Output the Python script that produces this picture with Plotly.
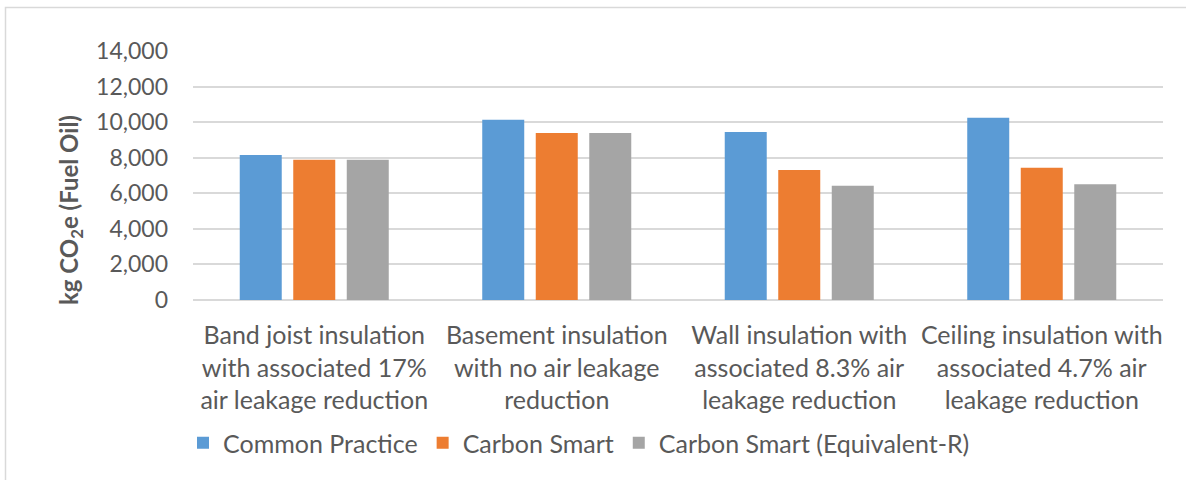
import plotly.graph_objects as go

categories = [
    "Band joist insulation<br>with associated 17%<br>air leakage reduction",
    "Basement insulation<br>with no air leakage<br>reduction",
    "Wall insulation with<br>associated 8.3% air<br>leakage reduction",
    "Ceiling insulation with<br>associated 4.7% air<br>leakage reduction",
]
common_practice = [8150, 10140, 9450, 10250]
carbon_smart = [7880, 9390, 7310, 7440]
carbon_smart_eq = [7880, 9390, 6430, 6510]
y_ticks = [0, 2000, 4000, 6000, 8000, 10000, 12000, 14000]

FONT = "Lato"
TXT = "#595959"

W, H = 1186, 480
ML, MR, MT, MB = 193, 23, 51, 180
PW, PH = W - ML - MR, H - MT - MB

def px(x):
    return (x - ML) / PW

def py(y):
    return (H - MB - y) / PH

fig = go.Figure()
for name, vals, col in [
    ("Common Practice", common_practice, "#5B9BD5"),
    ("Carbon Smart", carbon_smart, "#ED7D31"),
    ("Carbon Smart (Equivalent-R)", carbon_smart_eq, "#A5A5A5"),
]:
    fig.add_trace(go.Bar(x=categories, y=vals, name=name, marker=dict(color=col, line=dict(width=0))))

fig.update_layout(
    width=W, height=H,
    margin=dict(l=ML, r=MR, t=MT, b=MB),
    paper_bgcolor="white", plot_bgcolor="white",
    barmode="group", bargap=0.338, bargroupgap=0.215,
    font=dict(family=FONT, color=TXT, size=24),
    showlegend=True,
    legend=dict(orientation="h", x=px(183), xanchor="left", y=py(443), yanchor="middle",
                font=dict(size=25, color=TXT, family=FONT), itemclick=False, traceorder="normal"),
    xaxis=dict(showgrid=False, showline=False, ticks="", tickfont=dict(size=25, color=TXT),
               tickangle=0, ticklabelstandoff=18),
    yaxis=dict(range=[0, 14000], tickvals=y_ticks, tickformat=",d", showgrid=True,
               gridcolor="#D9D9D9", gridwidth=2, zeroline=True, zerolinecolor="#D9D9D9",
               zerolinewidth=2, ticks="", ticklabelstandoff=24, tickfont=dict(size=23, color=TXT)),
    shapes=[dict(type="rect", xref="paper", yref="paper", x0=px(5.5), x1=px(1240), y0=py(7.5), y1=py(560),
                 line=dict(color="#D9D9D9", width=1.5), fillcolor="rgba(0,0,0,0)", layer="below")],
    annotations=[dict(text="<b>kg CO<sub>2</sub>e (Fuel Oil)</b>", textangle=-90, xref="paper", yref="paper",
                      x=px(70), y=py(210), xanchor="center", yanchor="middle", showarrow=False,
                      font=dict(size=24, color=TXT, family=FONT))],
)

fig.write_html("out.html", config={"displayModeBar": False},
               post_script="document.body.style.margin='0';")
